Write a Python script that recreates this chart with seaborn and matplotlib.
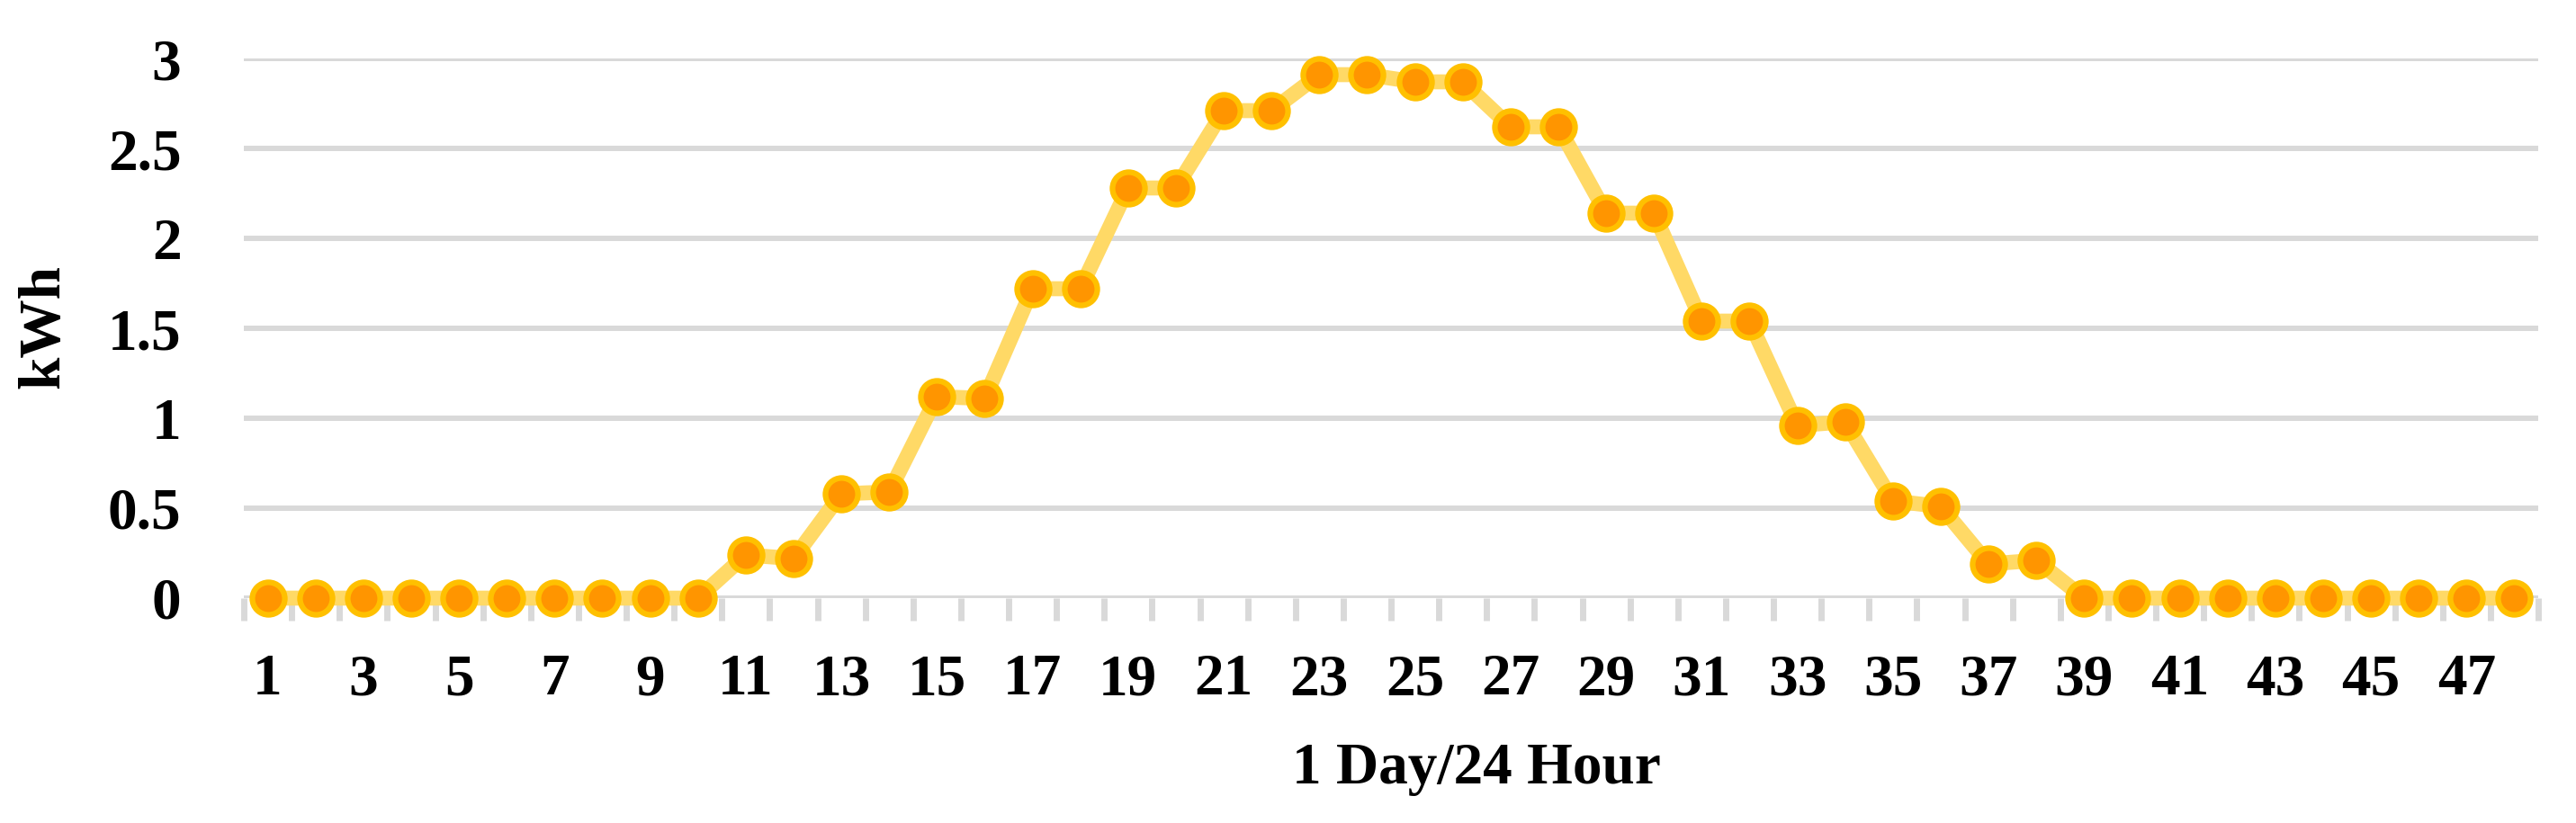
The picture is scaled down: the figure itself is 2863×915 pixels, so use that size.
import matplotlib
matplotlib.use("Agg")
import matplotlib.pyplot as plt
import seaborn as sns
import pandas as pd
import numpy as np
from matplotlib.ticker import FixedLocator

# ---- data ----
hours = list(range(1, 49))
kwh = [0, 0, 0, 0, 0, 0, 0, 0, 0, 0,
       0.24, 0.22, 0.58, 0.59, 1.12, 1.11, 1.72, 1.72, 2.28, 2.28,
       2.71, 2.71, 2.91, 2.91, 2.87, 2.87, 2.62, 2.62, 2.14, 2.14,
       1.54, 1.54, 0.96, 0.98, 0.54, 0.51, 0.19, 0.21, 0, 0,
       0, 0, 0, 0, 0, 0, 0, 0]
x_tick_labels = [str(h) for h in range(1, 49, 2)]
y_ticks = [0, 0.5, 1, 1.5, 2, 2.5, 3]
y_tick_labels = ["0", "0.5", "1", "1.5", "2", "2.5", "3"]
x_title = "1 Day/24 Hour"
y_title = "kWh"

df = pd.DataFrame({"hour": hours, "kwh": kwh})

sns.set_theme(style="white")
plt.rcParams["font.family"] = ["Liberation Serif", "DejaVu Serif"]
plt.rcParams["font.weight"] = "bold"
plt.rcParams["text.color"] = "black"
plt.rcParams["xtick.labelcolor"] = "black"
plt.rcParams["ytick.labelcolor"] = "black"
plt.rcParams["axes.labelcolor"] = "black"

W, H = 2863, 915
fig = plt.figure(figsize=(W / 100, H / 100), dpi=100)
L, R, Y0, Y3 = 271, 2821, 665, 65
ax = fig.add_axes([L / W, 1 - Y0 / H, (R - L) / W, (Y0 - Y3) / H])

GRID = "#D9D9D9"
FS = 47

sns.lineplot(data=df, x="hour", y="kwh", ax=ax, color="#FFD966", linewidth=12,
             marker="o", markersize=26, markerfacecolor="#FF9500",
             markeredgecolor="#FFC000", markeredgewidth=4.5, clip_on=False,
             zorder=5)

ax.set_xlim(0.5, 48.5)
ax.set_ylim(0, 3)
for s in ax.spines.values():
    s.set_visible(False)

ax.set_yticks(y_ticks)
ax.set_yticklabels(y_tick_labels)
ax.yaxis.grid(True, color=GRID, linewidth=4.3)
ax.set_axisbelow(True)

ax.xaxis.set_major_locator(FixedLocator(list(range(1, 49, 2))))
ax.set_xticklabels(x_tick_labels)
ax.xaxis.set_minor_locator(FixedLocator(list(np.arange(0.5, 49, 1.0))))
ax.tick_params(axis="x", which="major", length=0, pad=44, labelsize=FS,
               labelcolor="black")
ax.tick_params(axis="x", which="minor", length=18, width=5, color=GRID,
               direction="out", bottom=True)
ax.tick_params(axis="y", which="major", length=0, pad=50, labelsize=FS,
               labelcolor="black")
for t in ax.get_xticklabels() + ax.get_yticklabels():
    t.set_fontweight("bold")

ax.set_xlabel(x_title, fontsize=FS, fontweight="bold", color="black")
ax.xaxis.label.set_va("center")
ax.xaxis.set_label_coords((1641 - L) / (R - L), (Y0 - 855) / (Y0 - Y3))
ax.set_ylabel(y_title, fontsize=FS, fontweight="bold", color="black")
ax.yaxis.label.set_va("center")
ax.yaxis.set_label_coords((49 - L) / (R - L), (Y0 - 363) / (Y0 - Y3))

fig.savefig("out.png", dpi=100, facecolor="white")
